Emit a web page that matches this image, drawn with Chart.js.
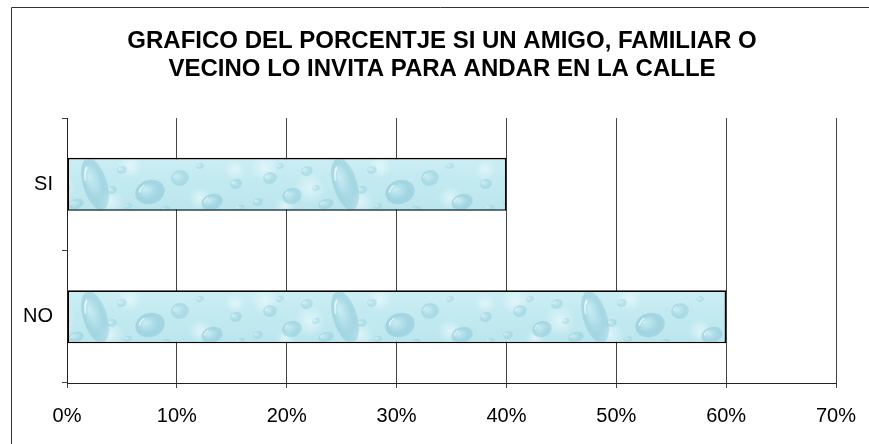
<!DOCTYPE html>
<html>
<head>
<meta charset="utf-8">
<script src="https://cdn.jsdelivr.net/npm/chart.js@4/dist/chart.umd.min.js"></script>
<style>
  html, body { margin: 0; padding: 0; background: #fff; }
  #wrap { width: 869px; height: 444px; position: relative; }
</style>
</head>
<body>
<div id="wrap"><canvas id="grafico" width="869" height="444"></canvas></div>
<script>
/* datos */
var categorias = ['SI', 'NO'];
var porcentajes = [40, 60];
var tituloLineas = ['GRAFICO DEL PORCENTJE SI UN AMIGO, FAMILIAR O', 'VECINO LO INVITA PARA ANDAR EN LA CALLE'];
var ejeMin = 0;
var ejeMax = 70;
var ejePaso = 10;

/* textura de gotas de agua para el relleno de las barras
   (franja de 54px que cae a la altura de cada barra) */
function texturaGotas() {
  var W = 250, H = 133, y0 = 25, bh = 54;
  var c = document.createElement('canvas');
  c.width = W; c.height = H;
  var g = c.getContext('2d');
  var fondo = g.createLinearGradient(0, y0, 0, y0 + bh);
  fondo.addColorStop(0, '#cbeef4');
  fondo.addColorStop(0.5, '#c1e9f0');
  fondo.addColorStop(1, '#bbe5ed');
  g.fillStyle = fondo;
  g.fillRect(0, 0, W, H);

  function repetir(x, fn) { [-W, 0, W].forEach(function (dx) { fn(x + dx); }); }

  // manchas claras del fondo
  var claras = [[15, 10, 14], [60, 30, 16], [130, 8, 12], [110, 44, 14], [200, 40, 12], [235, 12, 10], [35, 48, 10]];
  claras.forEach(function (m) {
    repetir(m[0], function (x) {
      var rg = g.createRadialGradient(x, y0 + m[1], 0, x, y0 + m[1], m[2]);
      rg.addColorStop(0, 'rgba(232,249,252,0.75)');
      rg.addColorStop(1, 'rgba(232,249,252,0)');
      g.fillStyle = rg;
      g.fillRect(0, 0, W, H);
    });
  });

  // gotas: x, y, radio x, radio y, opacidad
  var gotas = [
    [95, 26, 12, 27, 0.55], [150, 34, 15, 12, 0.6], [180, 20, 9, 8, 0.45], [42, 38, 10, 8, 0.5],
    [57, 13, 6, 5, 0.4], [122, 12, 5, 4, 0.4], [20, 20, 7, 6, 0.45], [76, 46, 8, 5, 0.45],
    [212, 44, 11, 8, 0.55], [8, 44, 5, 4, 0.4], [30, 8, 4, 3, 0.35], [66, 30, 4, 3, 0.4],
    [112, 32, 5, 4, 0.4], [236, 26, 6, 5, 0.45], [200, 8, 4, 3, 0.35], [165, 52, 6, 4, 0.4],
    [128, 48, 4, 3, 0.35], [240, 50, 5, 3, 0.35]
  ];
  gotas.forEach(function (d) {
    repetir(d[0], function (x) {
      var y = y0 + d[1];
      g.save();
      g.translate(x, y);
      g.rotate(-0.3);
      g.scale(d[2] / d[3], 1);
      var rg = g.createRadialGradient(-d[3] * 0.3, -d[3] * 0.35, 0, 0, 0, d[3]);
      rg.addColorStop(0, 'rgba(205,240,246,' + d[4] + ')');
      rg.addColorStop(0.7, 'rgba(140,200,216,' + d[4] + ')');
      rg.addColorStop(1, 'rgba(120,186,205,' + (d[4] * 0.6) + ')');
      g.fillStyle = rg;
      g.beginPath();
      g.arc(0, 0, d[3], 0, Math.PI * 2);
      g.fill();
      g.strokeStyle = 'rgba(255,255,255,' + (d[4] + 0.2) + ')';
      g.lineWidth = Math.max(0.8, d[3] * 0.1);
      g.beginPath();
      g.arc(0, 0, d[3] * 0.72, Math.PI * 1.1, Math.PI * 1.4);
      g.stroke();
      g.restore();
    });
  });
  return g.createPattern(c, 'repeat');
}

/* marco exterior (solo se ve el lado izquierdo y el superior) */
var marco = {
  id: 'marco',
  beforeDraw: function (chart) {
    var ctx = chart.ctx;
    ctx.save();
    ctx.strokeStyle = '#333';
    ctx.lineWidth = 1;
    ctx.beginPath();
    ctx.moveTo(11.5, 444);
    ctx.lineTo(11.5, 7.5);
    ctx.lineTo(869, 7.5);
    ctx.stroke();
    ctx.restore();
  }
};

var fuente = "'Liberation Sans', Arial, sans-serif";

new Chart(document.getElementById('grafico'), {
  type: 'bar',
  data: {
    labels: categorias,
    datasets: [{
      data: porcentajes,
      backgroundColor: texturaGotas(),
      borderColor: '#000',
      borderWidth: 1.6,
      borderSkipped: false,
      barPercentage: 0.4,
      categoryPercentage: 1
    }]
  },
  options: {
    indexAxis: 'y',
    responsive: false,
    animation: false,
    layout: { padding: { left: 15, right: 0, top: 0, bottom: 0 } },
    plugins: {
      legend: { display: false },
      tooltip: { enabled: false },
      title: {
        display: true,
        text: tituloLineas,
        color: '#000',
        font: { family: fuente, size: 24, weight: 'bold', lineHeight: 1.19 },
        padding: { top: 27, bottom: 34 }
      }
    },
    scales: {
      x: {
        min: ejeMin,
        max: ejeMax,
        ticks: {
          stepSize: ejePaso,
          color: '#000',
          padding: 16,
          font: { family: fuente, size: 20 },
          callback: function (v) { return v + '%'; }
        },
        grid: { color: '#444', lineWidth: 1, tickLength: 5 },
        border: { color: '#222', width: 1 },
        afterFit: function (s) { s.height = 61; s.paddingRight = 33; }
      },
      y: {
        ticks: { color: '#000', padding: 9, font: { family: fuente, size: 20 } },
        grid: { drawOnChartArea: false, color: '#444', tickLength: 5 },
        border: { color: '#222', width: 1 },
        afterFit: function (s) { s.width = 52; }
      }
    }
  },
  plugins: [marco]
});
</script>
</body>
</html>
